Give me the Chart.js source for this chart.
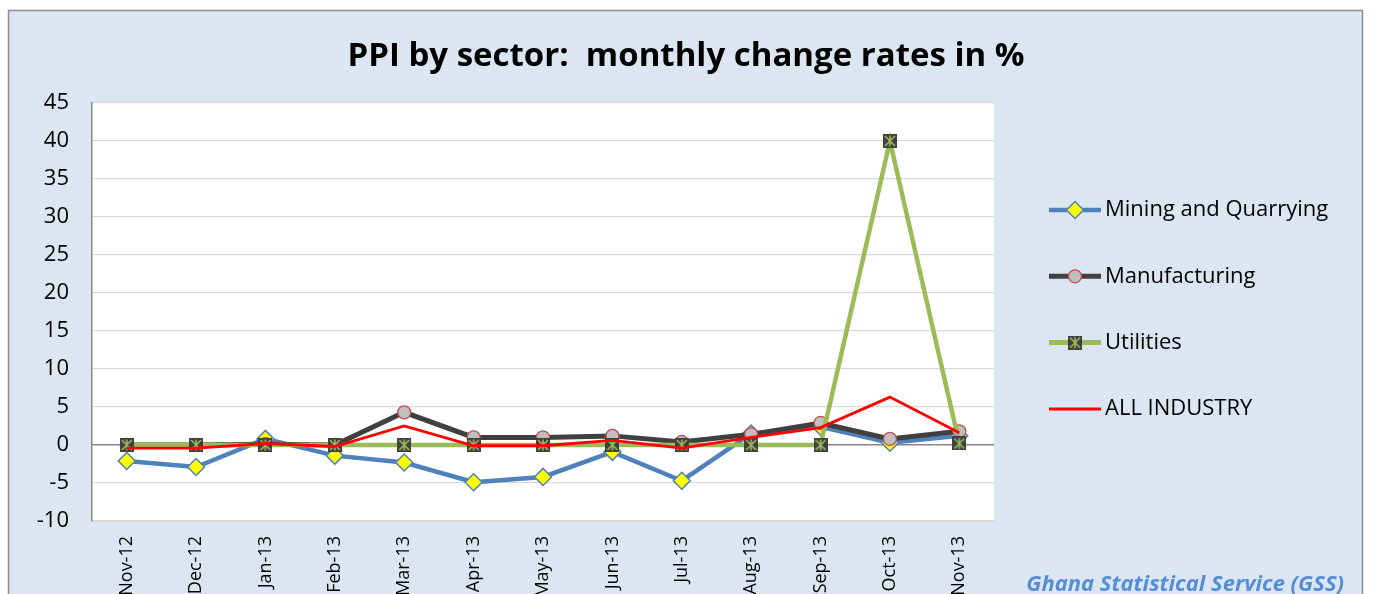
<!DOCTYPE html>
<html><head><meta charset="utf-8">
<script src="https://cdn.jsdelivr.net/npm/chart.js@4.4.0/dist/chart.umd.min.js"></script>
<style>html,body{margin:0;padding:0;background:#fff;overflow:hidden}#wrap{width:1375px;height:594px;position:relative}</style>
</head><body><div id="wrap"><canvas id="c" width="1375" height="594"></canvas></div>
<script>
const categories = ["Nov-12","Dec-12","Jan-13","Feb-13","Mar-13","Apr-13","May-13","Jun-13","Jul-13","Aug-13","Sep-13","Oct-13","Nov-13"];
const mining = [-2.1,-2.9,0.8,-1.4,-2.3,-4.9,-4.2,-0.9,-4.7,1.5,2.4,0.3,1.2];
const manufacturing = [0.0,0.0,0.1,0.0,4.3,1.0,1.0,1.2,0.4,1.4,2.9,0.8,1.8];
const utilities = [0.0,0.0,0.0,0.0,0.0,0.0,0.0,0.0,0.0,0.0,0.0,40.0,0.2];
const allIndustry = [-0.4,-0.4,0.2,-0.2,2.5,-0.1,-0.1,0.6,-0.4,1.0,2.3,6.3,1.6];
const seriesNames = ["Mining and Quarrying","Manufacturing","Utilities","ALL INDUSTRY"];
const yTicks = [-10,-5,0,5,10,15,20,25,30,35,40,45];
const titleText = "PPI by sector:  monthly change rates in %";
const sourceText = "Ghana Statistical Service (GSS)";

function starMarker(){
  const c = document.createElement('canvas'); c.width = 14; c.height = 14;
  const g = c.getContext('2d');
  g.fillStyle = '#404040'; g.fillRect(0,0,14,14);
  g.strokeStyle = '#9BBB59'; g.lineWidth = 1.6;
  g.beginPath(); g.moveTo(2,2); g.lineTo(12,12); g.moveTo(12,2); g.lineTo(2,12); g.moveTo(7,1.5); g.lineTo(7,12.5); g.stroke();
  return c;
}
const star = starMarker();

const framePlugin = {
  id:'frame',
  beforeDraw(chart){
    const ctx = chart.ctx, a = chart.chartArea;
    ctx.save();
    ctx.fillStyle = '#ffffff'; ctx.fillRect(0,0,chart.width,chart.height);
    ctx.fillStyle = '#DCE6F2'; ctx.fillRect(8.5,10.5,1354,600);
    ctx.strokeStyle = '#8C8C8C'; ctx.lineWidth = 1.5; ctx.strokeRect(8.5,10.5,1354,600);
    ctx.fillStyle = '#ffffff'; ctx.fillRect(a.left,a.top,a.right-a.left,a.bottom-a.top);
    ctx.restore();
  },
  afterDraw(chart){
    const ctx = chart.ctx;
    ctx.save();
    ctx.fillStyle = '#000'; ctx.font = 'bold 33px "Open Sans"'; ctx.textAlign='center'; ctx.textBaseline='middle';
    ctx.fillText(titleText, 686, 57);
    chart.data.datasets.forEach((ds,i)=>{
      const y = 210 + i*66.3;
      ctx.strokeStyle = ds.borderColor; ctx.lineWidth = ds.legendLineWidth;
      ctx.beginPath(); ctx.moveTo(1049,y); ctx.lineTo(1101,y); ctx.stroke();
      if (ds.pointRadius > 0) {
        ctx.fillStyle = ds.pointBackgroundColor; ctx.strokeStyle = ds.pointBorderColor; ctx.lineWidth = ds.pointBorderWidth;
        if (ds.pointStyle instanceof HTMLCanvasElement) {
          ctx.drawImage(ds.pointStyle, 1075-7, y-7);
        } else {
          Chart.helpers.drawPoint(ctx, {pointStyle: ds.pointStyle, radius: ds.pointRadius, rotation:0, borderWidth: ds.pointBorderWidth}, 1075, y);
        }
      }
      ctx.fillStyle = '#000'; ctx.font = '22px "Open Sans"'; ctx.textAlign='left'; ctx.textBaseline='middle';
      ctx.fillText(ds.label, 1105, y);
    });
    ctx.fillStyle = '#558ED5'; ctx.font = 'italic bold 22px "Open Sans"'; ctx.textAlign='right'; ctx.textBaseline='alphabetic';
    ctx.fillText(sourceText, 1344, 591);
    ctx.restore();
  }
};

new Chart(document.getElementById('c'), {
  type:'line',
  data:{
    labels: categories,
    datasets:[
      {label:seriesNames[0], data:mining, borderColor:'#4F81BD', borderWidth:4.5, legendLineWidth:4.5,
       pointStyle:'rectRot', pointRadius:8.5, pointBackgroundColor:'#FFFF00', pointBorderColor:'#4F81BD', pointBorderWidth:1.5, order:4, tension:0},
      {label:seriesNames[1], data:manufacturing, borderColor:'#404040', borderWidth:5, legendLineWidth:5,
       pointStyle:'circle', pointRadius:6.5, pointBackgroundColor:'#BFBFBF', pointBorderColor:'#C0504D', pointBorderWidth:1.3, order:3, tension:0},
      {label:seriesNames[2], data:utilities, borderColor:'#9BBB59', borderWidth:4.5, legendLineWidth:5,
       pointStyle:star, pointRadius:7, pointBackgroundColor:'#404040', pointBorderColor:'#9BBB59', pointBorderWidth:1, order:2, tension:0},
      {label:seriesNames[3], data:allIndustry, borderColor:'#FF0000', borderWidth:2.8, legendLineWidth:3,
       pointRadius:0, order:1, tension:0}
    ]
  },
  options:{
    responsive:false, animation:false,
    layout:{padding:{left:0,right:381,top:103,bottom:0}},
    plugins:{ legend:{display:false}, tooltip:{enabled:false}, title:{display:false} },
    scales:{
      x:{
        offset:true,
        grid:{display:false},
        border:{display:true,color:'#D9D9D9',width:1},
        ticks:{color:'#000', font:{family:'"Open Sans"', size:18}, maxRotation:90, minRotation:90, padding:7, autoSkip:false},
        afterFit(s){ s.height = 73; }
      },
      y:{
        min:-10, max:45,
        afterBuildTicks(s){ s.ticks = yTicks.map(v=>({value:v})); },
        grid:{drawTicks:false, color:(c)=> c.tick && c.tick.value===0 ? '#868686' : '#D9D9D9', lineWidth:(c)=> c.tick && c.tick.value===0 ? 1.5 : 1.2},
        border:{display:true,color:'#868686',width:1.5},
        ticks:{color:'#000', font:{family:'"Open Sans"', size:22}, padding:23},
        afterFit(s){ s.width = 92; }
      }
    }
  },
  plugins:[framePlugin]
});
</script></body></html>
